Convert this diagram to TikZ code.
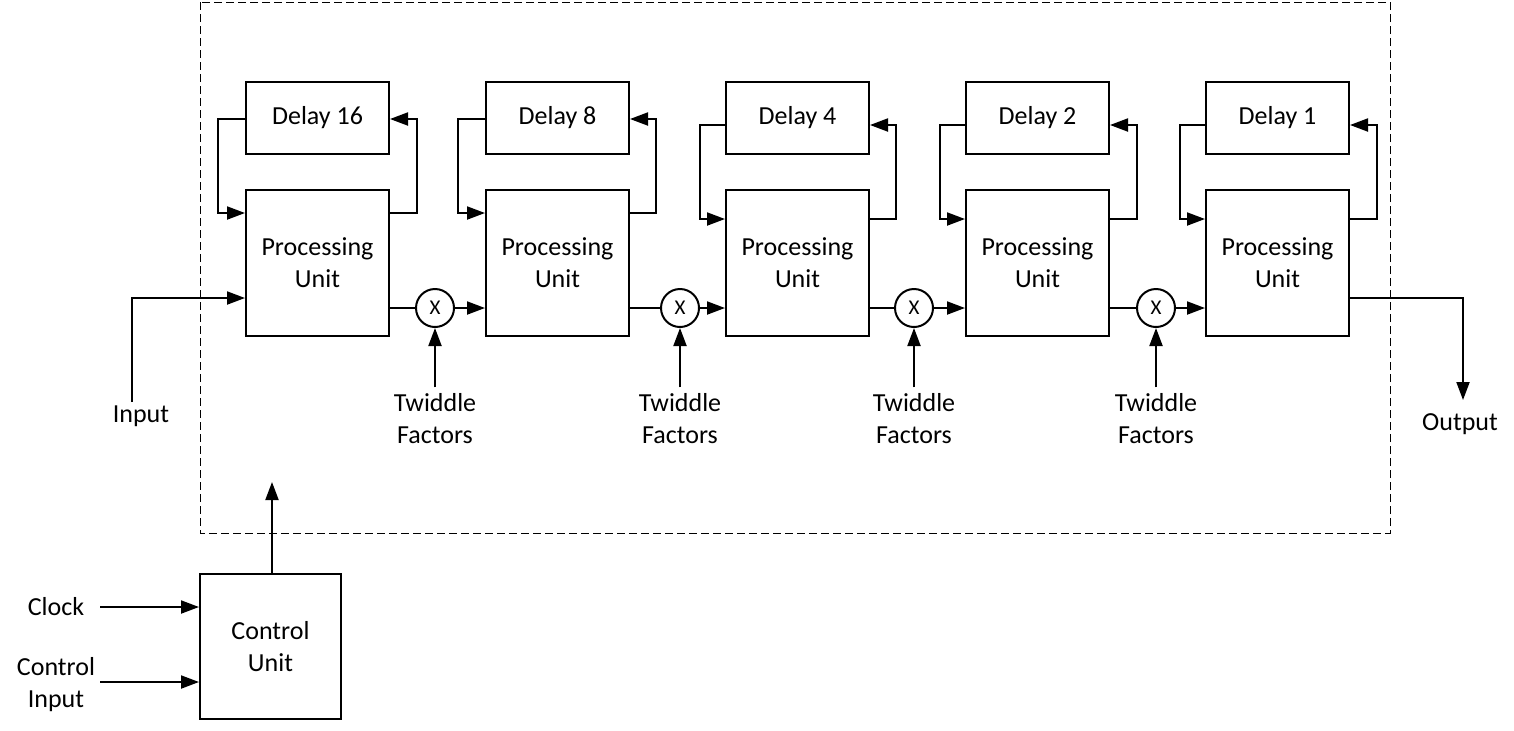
\documentclass[tikz,border=0pt]{standalone}
\usepackage{fontspec}
\setmainfont{Carlito}
\usetikzlibrary{arrows.meta,calc}
\begin{document}
\begin{tikzpicture}[x=0.5pt,y=-0.5pt,
  txt/.style={font=\fontsize{13}{16}\selectfont,align=center,inner sep=3pt},
  box/.style={draw,line width=1pt,minimum width=71.5pt,inner sep=0pt,txt},
  pu/.style={box,minimum height=73pt},
  dly/.style={box,minimum height=36pt},
  mul/.style={draw,circle,line width=1pt,minimum size=19pt,inner sep=0pt,font=\fontsize{10.5}{12}\selectfont},
  wire/.style={line width=1pt},
  arr/.style={wire,-{Triangle[length=9pt,width=6.5pt]}},
  frame/.style={line width=0.5pt,dash pattern=on 4pt off 2pt}
]
\useasboundingbox (0,0) rectangle (1514,730);
\draw[frame] (200,2) rectangle (1390,533);

% processing units and delays
\foreach \i/\x in {1/317.5,2/557.5,3/797.5,4/1037.5,5/1277.5}{
  \node[pu] (p\i) at (\x,263) {Processing\\Unit};
}
\node[dly] (d1) at (317.5,118) {Delay 16};
\node[dly] (d2) at (557.5,118) {Delay 8};
\node[dly] (d3) at (797.5,118) {Delay 4};
\node[dly] (d4) at (1037.5,118) {Delay 2};
\node[dly] (d5) at (1277.5,118) {Delay 1};

% feedback loops
\foreach \i/\l/\r/\t/\b in {1/218/417/119/213,2/458/656/119/213,3/700/896/125/219,4/940/1137/125/219,5/1180/1377/125/219}{
  \draw[arr] (d\i.west |- 0,\t) -| (\l,\b) -- (p\i.west |- 0,\b);
  \draw[arr] (p\i.east |- 0,\b) -| (\r,\t) -- (d\i.east |- 0,\t);
}

% multipliers
\foreach \i/\x in {1/435,2/680,3/914,4/1156}{
  \node[mul] (c\i) at (\x,308) {X};
  \node[txt] (tw\i) at (\x,419) {Twiddle\\Factors};
  \draw[arr] (tw\i.north) -- (c\i.south);
}
\foreach \i/\j in {1/2,2/3,3/4,4/5}{
  \draw[wire] (p\i.east |- c\i) -- (c\i.west);
  \draw[arr] (c\i.east) -- (p\j.west |- c\i);
}

% input / output
\node[txt] (inp) at (141,416) {Input};
\coordinate (inS) at (132,402);
\draw[arr] (inS) |- (p1.west |- 0,298);
\node[txt] (outp) at (1460,424) {Output};
\coordinate (outE) at (1463,400);
\draw[arr] (p5.east |- 0,298) -| (outE);

% control unit
\node[box,minimum width=70.5pt,minimum height=72.5pt] (cu) at (270.5,646.5) {Control\\Unit};
\coordinate (cuT) at (272,482);
\draw[arr] (cu.north -| cuT) -- (cuT);
\node[txt] (clk) at (56,607) {Clock};
\coordinate (clkE) at (100,607);
\draw[arr] (clkE) -- (cu.west |- clkE);
\node[txt] (cin) at (56,685) {Control\\Input};
\coordinate (cinE) at (100,682);
\draw[arr] (cinE) -- (cu.west |- cinE);
\end{tikzpicture}
\end{document}
